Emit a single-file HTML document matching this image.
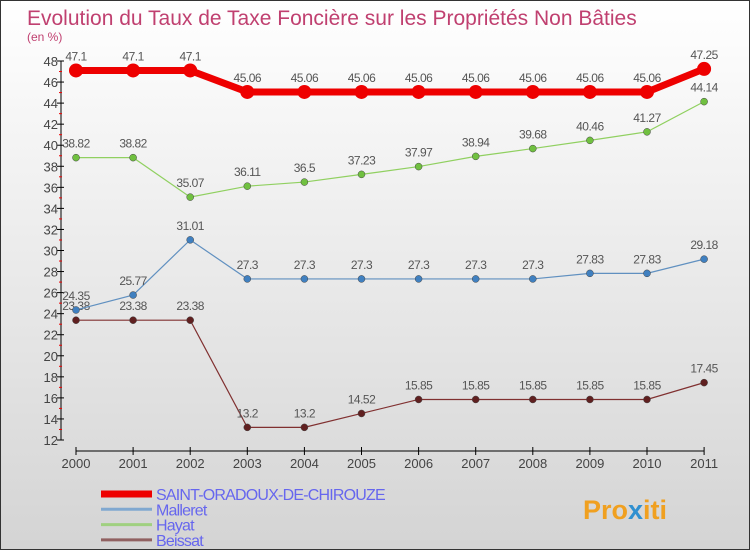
<!DOCTYPE html>
<html><head><meta charset="utf-8"><style>
body{margin:0}
#c{position:relative;width:748px;height:548px;border:1px solid #333;background:linear-gradient(#fff,#d4d4d4);font-family:"Liberation Sans",sans-serif;overflow:hidden}
</style></head><body>
<div id="c">
<svg width="748" height="548" xmlns="http://www.w3.org/2000/svg" id="svg">
<text x="26" y="24" font-size="21" fill="#c04070">Evolution du Taux de Taxe Foncière sur les Propriétés Non Bâties</text>
<text x="26" y="40" font-size="12" fill="#c04070">(en %)</text>
<g id="axes"></g><g id="series"></g><g id="legend"></g>
<text x="582" y="518" font-size="27" font-weight="bold" fill="#f0a020">Pro<tspan fill="#3090d0">x</tspan>iti</text>
</svg>
</div>
<script>
const years=[2000,2001,2002,2003,2004,2005,2006,2007,2008,2009,2010,2011];
const yTicks=[12,14,16,18,20,22,24,26,28,30,32,34,36,38,40,42,44,46,48];
const seriesNames=["SAINT-ORADOUX-DE-CHIROUZE","Malleret","Hayat","Beissat"];
const saint=[47.1,47.1,47.1,45.06,45.06,45.06,45.06,45.06,45.06,45.06,45.06,47.25];
const malleret=[24.35,25.77,31.01,27.3,27.3,27.3,27.3,27.3,27.3,27.83,27.83,29.18];
const hayat=[38.82,38.82,35.07,36.11,36.5,37.23,37.97,38.94,39.68,40.46,41.27,44.14];
const beissat=[23.38,23.38,23.38,13.2,13.2,14.52,15.85,15.85,15.85,15.85,15.85,17.45];
const NS="http://www.w3.org/2000/svg";
const xS=i=>75+i*57.1;
const yS=v=>439-(v-12)*(379/36);
function mk(tag,at,parent,txt){const e=document.createElementNS(NS,tag);for(const k in at)e.setAttribute(k,at[k]);if(txt!==undefined)e.textContent=txt;parent.appendChild(e);return e;}
const ax=document.getElementById('axes');
let l=mk('line',{x1:60,y1:yS(48),x2:60,y2:yS(12),stroke:'#000'},ax);


yTicks.forEach(v=>{
 mk('line',{x1:56,y1:yS(v),x2:63,y2:yS(v),stroke:'#000'},ax);
 if(v<48) mk('line',{x1:58,y1:yS(v+1),x2:61,y2:yS(v+1),stroke:'#e00'},ax);
 const t=mk('text',{x:57,y:yS(v)+5,'font-size':13,'text-anchor':'end',fill:'#444'},ax,v);
 
 
});
l=mk('line',{x1:75,y1:450,x2:xS(11),y2:450,stroke:'#000'},ax);


years.forEach((y,i)=>{
 mk('line',{x1:xS(i),y1:446,x2:xS(i),y2:454,stroke:'#000'},ax);
 const t=mk('text',{x:xS(i),y:467,'font-size':13,'text-anchor':'middle',fill:'#444'},ax,y);
 
 
});
const sg=document.getElementById('series');
const defs=[[beissat,'#803030','#602020',1.2,3.5],[malleret,'#6090c0','#4080c0',1.2,3.5],[hayat,'#90d060','#70c040',1.2,3.5],[saint,'#ee0000','#ee0000',7,7]];
const names=['beissat','malleret','hayat','saint-oradoux'];
defs.forEach(([data,col,dot,w,r],si)=>{
 const g=mk('g',{},sg);
 
 
 mk('polyline',{points:data.map((v,i)=>xS(i)+','+yS(v)).join(' '),fill:'none',stroke:col,'stroke-width':w},g);
 data.forEach((v,i)=>{
  const c=mk('circle',{cx:xS(i),cy:yS(v),r:r,fill:dot,stroke:si==3?'none':'#444','stroke-width':0.5},g);
  
  
  const t=mk('text',{x:xS(i),y:yS(v)-10,'font-size':12,'text-anchor':'middle',fill:'#555','letter-spacing':'-0.5'},g,v);
  
  
 });
});
const lg=document.getElementById('legend');
const lcol=['#ee0000','#80a8d0','#a0d080','#906060'];
seriesNames.forEach((n,i)=>{
 const y=493+i*15.3;
 const g=mk('g',{},lg);
 
 
 mk('line',{x1:100,y1:y,x2:151,y2:y,stroke:lcol[i],'stroke-width':i==0?7:3},g);
 mk('text',{x:155,y:y+6,'font-size':16,fill:'#6666ee','letter-spacing':'-0.8'},g,n);
});
</script>
</body></html>
